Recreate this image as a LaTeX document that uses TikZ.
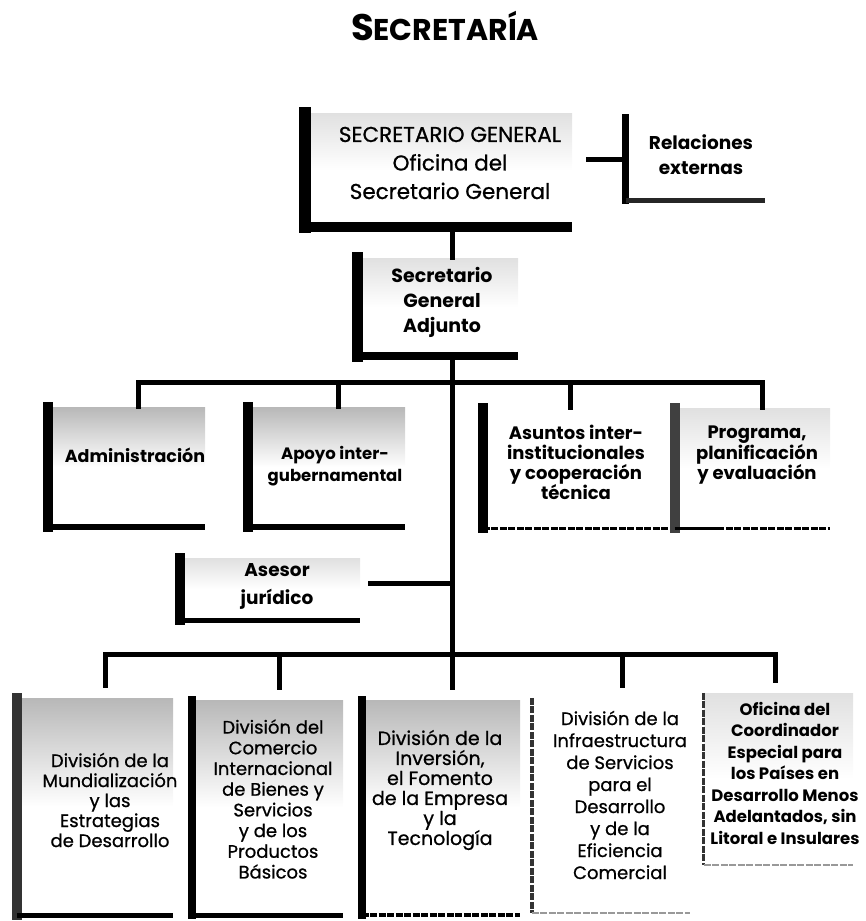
\documentclass[tikz,border=0pt]{standalone}
\usepackage{fontspec}
\setmainfont{Poppins}
\newfontfamily\medfont[FakeBold=0.8]{Poppins}

\tikzset{
  frame/.style={rectangle, inner sep=0pt},
  dark/.style={shade, top color=black!28, bottom color=white, middle color=white},
  pale/.style={shade, top color=black!12, bottom color=white, middle color=white},
  conn/.style={line width=5pt, line cap=rect},
  lbl/.style={align=center, inner sep=0pt},
  dotbar/.style={line cap=butt, dash pattern=on 7pt off 1.5pt},
}

% left bar and bottom bar of a box
\newcommand{\lframe}[3]{%
  \draw[line cap=rect,#2] (#1.north west) -- (#1.south west);
  \draw[#3] (#1.south west) -- (#1.south east);}

\begin{document}
\begin{tikzpicture}[x=1pt, y=-1pt]
    \useasboundingbox (0,0) rectangle (866,921);

    % frames
    \node[frame, pale, minimum width=267pt, minimum height=114pt] (sg)  at (438.5,170) {};
    \node[frame, minimum width=139pt, minimum height=82pt]        (rel) at (695.5,159) {};
    \node[frame, pale, minimum width=160pt, minimum height=98pt]  (adj) at (438,307) {};
    \node[frame, dark, minimum width=157pt, minimum height=120pt] (adm) at (126.5,467) {};
    \node[frame, dark, minimum width=157pt, minimum height=120pt] (apo) at (326.5,467) {};
    \node[frame, minimum width=234pt, minimum height=120pt]       (asu) at (600,468) {};
    \node[frame, pale, minimum width=155pt, minimum height=120pt] (pro) at (752.5,468) {};
    \node[frame, pale, minimum width=180pt, minimum height=62pt]  (ase) at (270,589) {};
    \node[frame, dark, minimum width=156pt, minimum height=217pt] (d1)  at (95,806.5) {};
    \node[frame, dark, minimum width=151pt, minimum height=215pt] (d2)  at (267.5,807.5) {};
    \node[frame, dark, minimum width=158pt, minimum height=215pt] (d3)  at (441,807.5) {};
    \node[frame, minimum width=158pt, minimum height=215pt]       (d4)  at (611,805.5) {};
    \node[frame, pale, minimum width=149pt, minimum height=172pt] (d5)  at (778.5,779) {};

    \lframe{sg}{line width=12pt}{line width=10pt}
    \lframe{rel}{line width=7pt}{line width=5pt, black!85}
    \lframe{adj}{line width=11pt}{line width=8pt}
    \lframe{adm}{line width=10pt}{line width=6pt}
    \lframe{apo}{line width=10pt}{line width=6pt}
    \lframe{asu}{line width=10pt}{line width=3pt, dotbar}
    \lframe{pro}{line width=10pt, black!75}{line width=3pt, dotbar}
    \lframe{ase}{line width=10pt}{line width=5pt}
    \lframe{d1}{line width=10pt, black!80}{line width=5pt}
    \lframe{d2}{line width=8pt}{line width=5pt}
    \lframe{d3}{line width=8pt}{line width=4pt, dotbar}
    \lframe{d4}{line width=4pt, dotbar, black!80}{line width=2pt, dotbar, black!40}
    \lframe{d5}{line width=3pt, dotbar, black!80}{line width=2pt, dotbar, black!40}

    % connector points
    \coordinate (spine) at (452,0);
    \coordinate (busA) at (0,382);
    \coordinate (busB) at (0,654);
    \coordinate (relj) at (588,159);
    \coordinate (asej) at (370,583);
    \coordinate (dropadm) at (138,0);
    \coordinate (dropapo) at (338,0);
    \coordinate (dropasu) at (570,0);
    \coordinate (droppro) at (762,0);
    \coordinate (dropd1) at (105,0);
    \coordinate (dropd2) at (279,0);
    \coordinate (dropd3) at (452,0);
    \coordinate (dropd4) at (622,0);
    \coordinate (dropd5) at (775,0);

    \draw[conn] (sg.south -| spine) -- (adj.north -| spine);
    \draw[conn] (relj) -- (relj -| rel.west);
    \draw[conn] (adj.south -| spine) -- (busB -| spine);
    \draw[conn] (asej) -- (asej -| spine);

    \draw[conn] (busA -| dropadm) -- (busA -| droppro);
    \foreach \b in {adm,apo,asu,pro}
        \draw[conn] (busA -| drop\b) -- (\b.north -| drop\b);

    \draw[conn] (busB -| dropd1) -- (busB -| dropd5);
    \foreach \b in {d1,d2,d3,d4,d5}
        \draw[conn, shorten >=12pt] (busB -| drop\b) -- (\b.north -| drop\b);

    % texts
    \node[lbl, font=\bfseries] (title) at (445,26)
        {\fontsize{37}{37}\selectfont S\fontsize{30}{30}\selectfont ECRETARÍA};
    \node[lbl, font=\fontsize{21.5}{28.5}\selectfont\medfont] (sgt) at (450,163)
        {SECRETARIO GENERAL\\Oficina del\\Secretario General};
    \node[lbl, font=\fontsize{18.5}{25}\selectfont\bfseries] (relt) at (701,155)
        {Relaciones\\externas};
    \node[lbl, font=\fontsize{19}{25}\selectfont\bfseries] (adjt) at (442,302)
        {Secretario\\General\\Adjunto};
    \node[lbl, font=\fontsize{17.5}{22}\selectfont\bfseries] (admt) at (135,455)
        {Administración};
    \node[lbl, font=\fontsize{16.5}{22}\selectfont\bfseries] (apot) at (335,466)
        {Apoyo inter-\\gubernamental};
    \node[lbl, font=\fontsize{18}{20}\selectfont\bfseries] (asut) at (576,462)
        {Asuntos inter-\\institucionales\\y cooperación\\técnica};
    \node[lbl, font=\fontsize{18}{19.5}\selectfont\bfseries] (prot) at (757,455)
        {Programa,\\planificación\\y evaluación};
    \node[lbl, font=\fontsize{18.5}{28}\selectfont\bfseries] (aset) at (277,586)
        {Asesor\\jurídico};
    \node[lbl, font=\fontsize{18}{20}\selectfont\medfont] (d1t) at (110,800)
        {División de la\\Mundialización\\y las\\Estrategias\\de Desarrollo};
    \node[lbl, font=\fontsize{18}{20.7}\selectfont\medfont] (d2t) at (273,799)
        {División del\\Comercio\\Internacional\\de Bienes y\\Servicios\\y de los\\Productos\\Básicos};
    \node[lbl, font=\fontsize{19}{20}\selectfont\medfont] (d3t) at (440,790)
        {División de la\\Inversión,\\el Fomento\\de la Empresa\\y la\\Tecnología};
    \node[lbl, font=\fontsize{18}{22}\selectfont\medfont] (d4t) at (620,795)
        {División de la\\Infraestructura\\de Servicios\\para el\\Desarrollo\\y de la\\Eficiencia\\Comercial};
    \node[lbl, font=\fontsize{16.5}{21.5}\selectfont\bfseries] (d5t) at (785,773)
        {Oficina del\\Coordinador\\Especial para\\los Países en\\Desarrollo Menos\\Adelantados, sin\\Litoral e Insulares};
\end{tikzpicture}
\end{document}
